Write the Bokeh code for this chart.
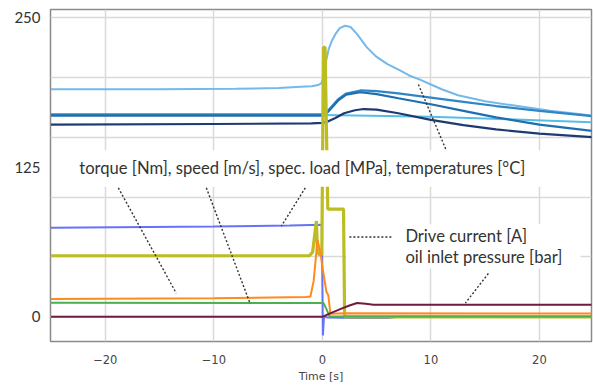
from bokeh.plotting import figure
from bokeh.models import Range1d, FixedTicker, Label, BoxAnnotation
from bokeh.embed import file_html
from bokeh.resources import INLINE

# ---- measured signals (time in s) ----
# temperatures [°C]
t_temp_a = [-25, -15, -8, -4, -2, -1, -0.4, -0.1, 0.1, 0.3, 0.6, 0.9, 1.2, 1.6, 2.1, 2.6, 3.2, 4.1, 5, 6,
            7.2, 8, 9, 10, 11, 12.5, 15, 18, 21, 25]
temp_a = [190, 190, 190.5, 191, 192, 192.5, 193.5, 195, 200, 212, 224, 231, 236, 241, 243, 242, 236, 225, 217, 211,
          205.5, 201.5, 198, 194, 190, 185, 180, 176, 172, 168]

t_temp = [-25, -10, -1, 0, 0.3, 0.8, 1.5, 2.2, 3.5, 5, 7, 10, 13, 16, 20, 25]
temp_b = [169, 169, 169, 169, 170, 175, 182, 186.5, 189, 188.5, 186.5, 183, 179.5, 176, 172, 167.5]
temp_c = [168, 168, 168, 168, 169, 174, 181, 185.5, 187.5, 186, 182.5, 177.5, 172, 166.5, 160.5, 155]

t_temp_d = [-25, -10, 0, 3, 10, 17, 25]
temp_d = [168.5, 168.5, 168.5, 168, 167, 165, 162.5]

t_temp_e = [-25, -10, -1, 0, 0.5, 1.2, 2, 3, 3.8, 5, 7, 10, 13, 16, 20, 25]
temp_e = [160.5, 161, 161.5, 162, 163, 166, 170, 172.5, 173.5, 173, 170, 164.5, 160, 156.5, 153, 150]

# specific load [MPa]
t_load = [-25, -10, -3, -0.05, 0.05, 0.15, 0.5, 3, 6, 7, 25]
load = [74.3, 75.4, 76.2, 76.8, -15.5, 0, -0.5, -1, -1, 0, 0]

# drive current [A]
t_current = [-25, -1.2, -0.9, -0.55, -0.45, -0.3, -0.05, 0.1, 0.25, 0.5, 1.95, 2.05, 25]
current = [51, 51, 54, 80, 55, 52, 52, 225, 225, 90, 90, 0, 0]

# torque [Nm]
t_torque = [-25, -10, -1.5, -1.1, -0.8, -0.45, -0.2, 0, 0.37, 0.55, 0.74, 2, 25]
torque = [14.8, 15.5, 16.5, 17, 30, 64, 55, 42, 21, 18, 2.5, 3, 2.7]

# speed [m/s]
t_speed = [-25, 0, 0.1, 0.4, 0.65, 3, 25]
speed = [11.7, 11.5, 11.5, 6, 0.5, 0.3, 0.3]

# oil inlet pressure [bar]
t_oil = [-25, 0, 0.5, 1.7, 2.5, 3.2, 4, 4.7, 7, 25]
oil = [0, 0, 2, 6.6, 9.5, 11.5, 11, 10, 10, 10]

x_ticks = [-20, -10, 0, 10, 20]
x_tick_labels = {-20: "\u221220", -10: "\u221210", 0: "0", 10: "10", 20: "20"}
y_ticks = [0, 125, 250]
y_grid = [0, 50, 100, 150, 200, 250]

p = figure(width=593, height=385, output_backend="svg", toolbar_location=None,
           x_range=Range1d(-25.05, 24.8), y_range=Range1d(-20.6, 256.6),
           min_border_left=50, min_border_right=2, min_border_top=9, min_border_bottom=39)

p.background_fill_color = "white"
p.border_fill_color = "white"
p.outline_line_color = "#8a8a8a"
p.outline_line_width = 1.5

p.xgrid.ticker = FixedTicker(ticks=x_ticks)
p.ygrid.ticker = FixedTicker(ticks=y_grid)
for g in (p.xgrid, p.ygrid):
    g.grid_line_color = "#d9d9d9"
    g.grid_line_width = 1.5

p.xaxis.ticker = FixedTicker(ticks=x_ticks)
p.xaxis.major_label_overrides = x_tick_labels
p.xaxis.axis_label = "Time [s]"
p.xaxis.axis_label_text_font = "DejaVu Sans"
p.xaxis.axis_label_text_font_style = "normal"
p.xaxis.axis_label_text_font_size = "11px"
p.xaxis.axis_label_text_color = "#444444"
p.xaxis.axis_label_standoff = 3
p.xaxis.major_label_text_font = "DejaVu Sans"
p.xaxis.major_label_text_font_size = "11.5px"
p.xaxis.major_label_text_color = "#444444"
p.xaxis.major_label_standoff = 7

p.yaxis.ticker = FixedTicker(ticks=y_ticks)
p.yaxis.major_label_text_font = "Lato"
p.yaxis.major_label_text_font_size = "15px"
p.yaxis.major_label_text_color = "#333333"
p.yaxis.major_label_standoff = 4

for ax in (p.xaxis, p.yaxis):
    ax.axis_line_color = None
    ax.major_tick_line_color = None
    ax.minor_tick_line_color = None

# white panel behind the current / oil pressure captions (hides grid only)
p.add_layout(BoxAnnotation(left=2.2, right=23.8, bottom=40.3, top=77.3,
                           fill_color="white", fill_alpha=1.0, line_color=None, level="underlay"))

# temperatures
p.line(t_temp_a, temp_a, line_color="#74b9ea", line_width=2)
p.line(t_temp_d, temp_d, line_color="#56bde6", line_width=2)
p.line(t_temp, temp_b, line_color="#2f86c6", line_width=2.2)
p.line(t_temp, temp_c, line_color="#1f6fae", line_width=2.2)
p.line(t_temp_e, temp_e, line_color="#1e3a72", line_width=2.2)

# lower signals
p.line(t_load, load, line_color="#6672f7", line_width=2)
p.line(t_current, current, line_color="#bcbd22", line_width=3.2)
p.line(t_torque, torque, line_color="#ff8a1e", line_width=2)
p.line(t_speed, speed, line_color="#4caf50", line_width=2)
p.line(t_oil, oil, line_color="#6e1d40", line_width=2)

# dotted leader lines from the captions to the curves
leaders = [
    ([-18.80, -13.46], [107.7, 19.7]),
    ([-10.69, -6.64], [107.7, 10.7]),
    ([-1.57, -3.78], [107.7, 75.7]),
    ([8.85, 11.61], [194.0, 134.9]),
    ([2.49, 6.54], [66.6, 66.6]),
    ([15.30, 13.18], [36.2, 11.5]),
]
for xs, ys in leaders:
    p.line(xs, ys, line_color="#333333", line_width=1.4, line_dash="2 2")

# caption for the upper group, on a white panel
p.add_layout(BoxAnnotation(left=-23.2, right=20.55, bottom=108.6, top=139.0,
                           fill_color="white", fill_alpha=1.0, line_color=None))

caption_style = dict(text_font="Lato", text_font_size="16.6px", text_color="#333333",
                     text_baseline="middle", text_align="left")
p.add_layout(Label(x=-22.4, y=124.2,
                   text="torque [Nm], speed [m/s], spec. load [MPa], temperatures [\u00b0C]",
                   **caption_style))
p.add_layout(Label(x=7.65, y=67.4, text="Drive current [A]", **caption_style))
p.add_layout(Label(x=7.65, y=50.2, text="oil inlet pressure [bar]", **caption_style))

open("out.html", "w").write(file_html(p, INLINE))
